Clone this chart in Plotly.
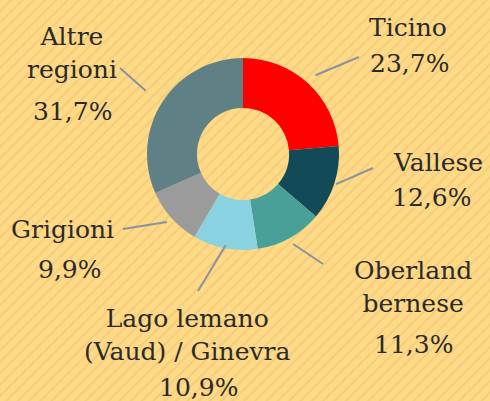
import math
import plotly.graph_objects as go

# data
regions = ["Ticino", "Vallese", "Oberland bernese", "Lago lemano (Vaud) / Ginevra",
           "Grigioni", "Altre regioni"]
shares = [23.7, 12.6, 11.3, 10.9, 9.9, 31.7]
colors = ["#FF0000", "#124B57", "#49A099", "#89D2E2", "#9B9B9B", "#5F8186"]

# label layout (pixel coords, y down): label text, name centre, pct centre, connector end
name_text = ["Ticino", "Vallese", "Oberland<br>bernese",
             "Lago lemano<br>(Vaud) / Ginevra", "Grigioni", "Altre<br>regioni"]
name_pos = [(408, 27), (438, 162), (413, 287), (187, 335), (62, 229), (72, 53)]
pct_pos = [(409, 63), (431, 197), (413, 344), (198, 387), (70, 269), (72, 111)]
conn_end = [(359, 57), (373, 168), (323, 264), (198, 291), (123, 229), (120, 68)]
conn_r = [107, 98, 103, 93, 102, 116]

W, H = 490, 401
cx, cy, R = 243, 154, 96

fig = go.Figure()

# striped background
fig.add_trace(go.Scatter(
    x=[0, W, W, 0, 0], y=[0, 0, H, H, 0],
    mode="lines", fill="toself", line=dict(width=0),
    fillcolor="#FFDA86",
    fillpattern=dict(shape="/", size=8, solidity=0.25,
                     bgcolor="#FFDA86", fgcolor="#F5CC7C", fgopacity=1),
    hoverinfo="skip", showlegend=False
))

fig.add_trace(go.Pie(
    labels=regions, values=shares,
    marker=dict(colors=colors, line=dict(width=0)),
    hole=0.48, sort=False, direction="clockwise", rotation=0,
    textinfo="none", showlegend=False,
    domain=dict(x=[(cx - R) / W, (cx + R) / W],
                y=[(H - cy - R) / H, (H - cy + R) / H])
))

font = dict(family="DejaVu Serif", size=25, color="#2A2A2A")
total = sum(shares)
cum = 0
for i, v in enumerate(shares):
    mid = (cum + v / 2) / total * 2 * math.pi
    cum += v
    # connector from slice edge toward label
    x0 = cx + conn_r[i] * math.sin(mid)
    y0 = cy - conn_r[i] * math.cos(mid)
    fig.add_shape(type="line", xref="x", yref="y",
                  x0=x0, y0=y0, x1=conn_end[i][0], y1=conn_end[i][1],
                  line=dict(color="#8793A0", width=2))
    nx, ny = name_pos[i]
    fig.add_annotation(x=nx, y=ny, xref="x", yref="y",
                       text=name_text[i], showarrow=False, font=font,
                       xanchor="center", yanchor="middle")
    px_, py_ = pct_pos[i]
    fig.add_annotation(x=px_, y=py_, xref="x", yref="y",
                       text=f"{v:.1f}".replace(".", ",") + "%", showarrow=False,
                       font=font, xanchor="center", yanchor="middle")

fig.update_layout(
    width=W, height=H,
    margin=dict(l=0, r=0, t=0, b=0),
    paper_bgcolor="#FFDA86",
    plot_bgcolor="#FFDA86",
    xaxis=dict(range=[0, W], visible=False, fixedrange=True),
    yaxis=dict(range=[H, 0], visible=False, fixedrange=True),
)

fig.write_html("out.html", config={"displayModeBar": False},
               post_script="document.body.style.margin='0';")
